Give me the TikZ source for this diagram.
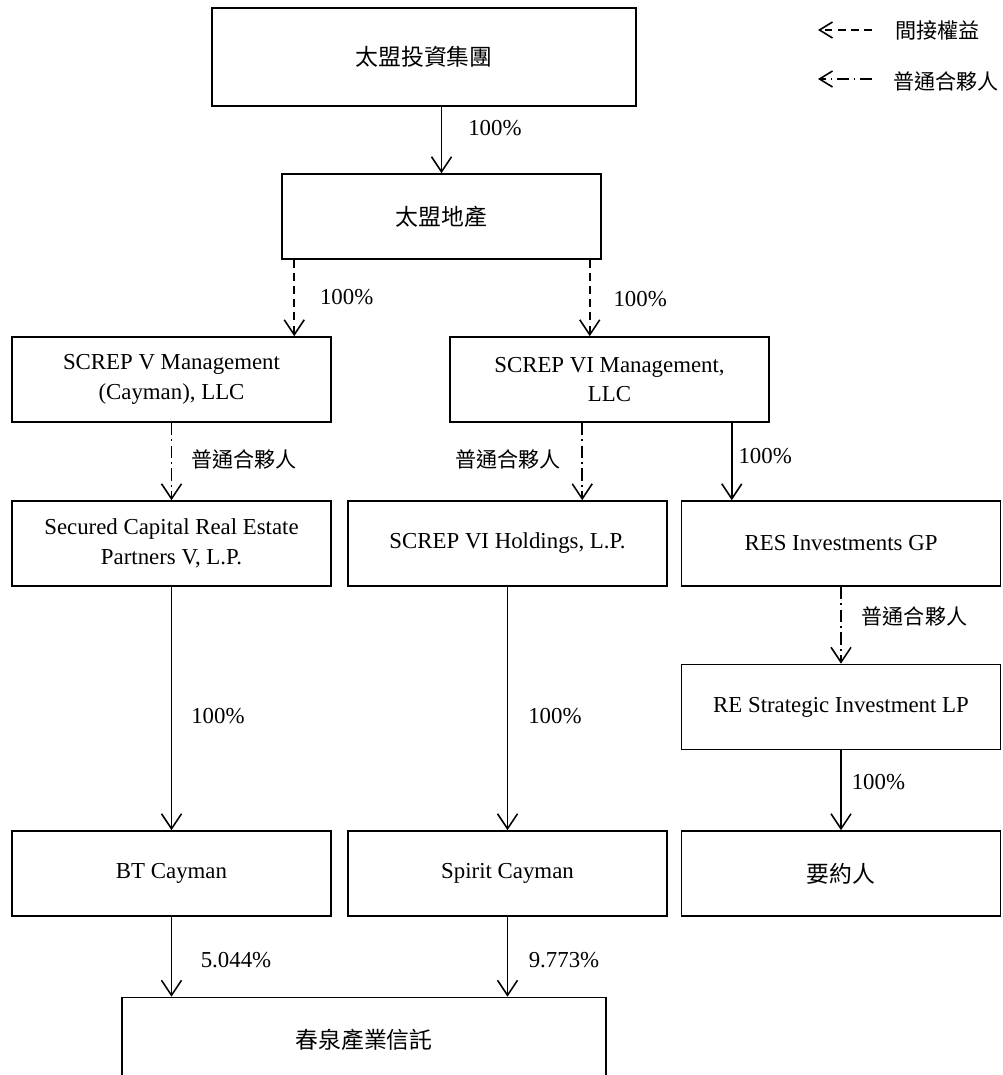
\documentclass[tikz,border=0pt]{standalone}
\usepackage{fontspec}
\setmainfont{Liberation Serif}
\newfontfamily\cjk{Noto Sans CJK TC}
\usetikzlibrary{arrows.meta,calc}
\begin{document}
\begin{tikzpicture}[
    x=0.02cm, y=-0.02cm,
    every node/.style={align=center, font=\fontsize{13}{17}\selectfont},
    entity/.style={draw, line width=0.9pt, minimum width=6.38cm, minimum height=1.7cm, inner sep=0pt},
    solid arrow/.style={draw, line width=0.9pt, -{Straight Barb[length=3mm,width=4mm]}},
    indirect arrow/.style={solid arrow, dash pattern=on 4.5pt off 3pt},
    partner arrow/.style={solid arrow, dash pattern=on 7pt off 2.5pt on 1pt off 2.5pt},
    key tip/.style={-{Straight Barb[length=2.6mm,width=3.2mm]}},
    share/.style={anchor=west, inner sep=0pt},
    share left/.style={anchor=east, inner sep=0pt},
    role/.style={font=\fontsize{12}{14}\selectfont\cjk},
    ]
\useasboundingbox (0,0) rectangle (1002,1075);
\node[entity, minimum width=8.48cm, minimum height=1.96cm] (group) at (424,57) {\cjk 太盟投資集團};
\node[entity] (estate) at (441.5,216.5) {\cjk 太盟地產};
\node[entity] (mgmtV) at (171.5,379.5) {SCREP V Management\\(Cayman), LLC};
\node[entity] (mgmtVI) at (609.5,379.5) {SCREP VI Management,\\LLC};
\node[entity] (capV) at (171.5,543.5) {Secured Capital Real Estate\\Partners V, L.P.};
\node[entity] (holdVI) at (507.5,543.5) {SCREP VI Holdings, L.P.};
\node[entity] (resGP) at (841,543.5) {RES Investments GP};
\node[entity] (resLP) at (841,707) {RE Strategic Investment LP};
\node[entity] (btCay) at (171.5,873.5) {BT Cayman};
\node[entity] (spCay) at (507.5,873.5) {Spirit Cayman};
\node[entity] (offeror) at (841,873.5) {\cjk 要約人};
\node[entity, minimum width=9.68cm] (trust) at (364,1040) {\cjk 春泉產業信託};
\draw[solid arrow] (group.south -| estate.north) -- (estate.north)
    node[share, pos=.32, xshift=0.52cm] {100\%};
\draw[indirect arrow] ($(estate.south west)+(13,0)$) coordinate (e1) -- (e1 |- mgmtV.north)
    node[share, pos=.49, xshift=0.5cm] {100\%};
\draw[indirect arrow] ($(estate.south east)+(-12,0)$) coordinate (e2) -- (e2 |- mgmtVI.north)
    node[share, pos=.51, xshift=0.46cm] {100\%};
\draw[partner arrow] (mgmtV.south) -- (capV.north)
    node[share, role, pos=.47, xshift=0.38cm] {普通合夥人};
\draw[partner arrow] ($(mgmtVI.south west)+(133,0)$) coordinate (m1) -- (m1 |- holdVI.north)
    node[share left, role, pos=.47, xshift=-0.42cm] {普通合夥人};
\draw[solid arrow] ($(mgmtVI.south east)+(-38,0)$) coordinate (m2) -- (m2 |- resGP.north)
    node[share, pos=.43, xshift=0.12cm] {100\%};
\draw[partner arrow] (resGP.south) -- (resLP.north)
    node[share, role, pos=.38, xshift=0.4cm] {普通合夥人};
\draw[solid arrow] (resLP.south) -- (offeror.north)
    node[share, pos=.4, xshift=0.2cm] {100\%};
\draw[solid arrow] (capV.south) -- (btCay.north)
    node[share, pos=.53, xshift=0.38cm] {100\%};
\draw[solid arrow] (holdVI.south) -- (spCay.north)
    node[share, pos=.53, xshift=0.4cm] {100\%};
\draw[solid arrow] (btCay.south) -- (btCay.south |- trust.north)
    node[share, pos=.54, xshift=0.57cm] {5.044\%};
\draw[solid arrow] (spCay.south) -- (spCay.south |- trust.north)
    node[share, pos=.54, xshift=0.41cm] {9.773\%};
\node[share, role] (keyInd) at (895,30) {間接權益};
\node[share, role] (keyGP) at (893,81) {普通合夥人};
\coordinate (keyIndTail) at (872,30);
\coordinate (keyIndTip) at (818,30);
\coordinate (keyGPTail) at (872,79);
\coordinate (keyGPTip) at (818,79);
\draw[indirect arrow, key tip] (keyIndTail) -- (keyIndTip);
\draw[partner arrow, key tip] (keyGPTail) -- (keyGPTip);
\end{tikzpicture}
\end{document}
